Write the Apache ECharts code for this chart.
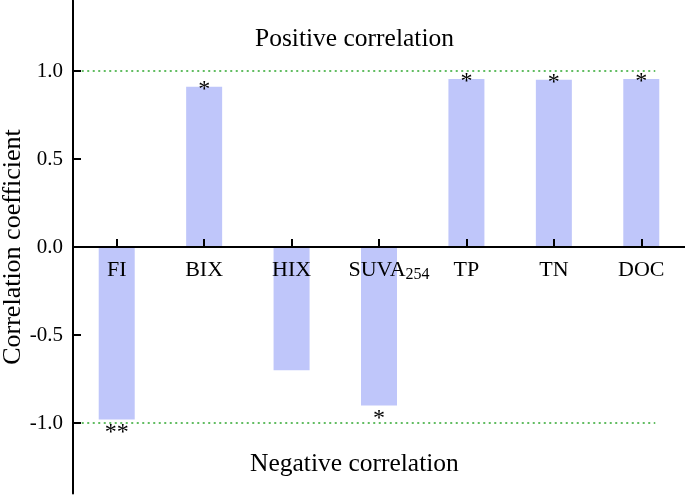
<!DOCTYPE html>
<html><head><meta charset="utf-8">
<script src="https://cdn.jsdelivr.net/npm/echarts@6/dist/echarts.min.js"></script>
<style>html,body{margin:0;padding:0;background:#fff}#c{width:685px;height:495px}</style>
</head><body><div id="c"></div>
<script>
const categories = ['FI', 'BIX', 'HIX', 'SUVA254', 'TP', 'TN', 'DOC'];
const coefficients = [-0.98, 0.91, -0.70, -0.90, 0.955, 0.95, 0.955];
const significance = ['**', '*', '', '*', '*', '*', '*'];
const yRange = [-1.4, 1.4];
const yTickValues = [-1, -0.5, 0, 0.5, 1];
const refLevels = [1, -1];
const refSpan = [0.1, 6.66];

const F = 'Liberation Serif, Times New Roman, serif';
const chart = echarts.init(document.getElementById('c'));
const barData = coefficients.map((v, i) => ({
  value: v,
  label: {
    show: significance[i] !== '',
    position: v >= 0 ? 'top' : 'bottom',
    distance: v >= 0 ? -15 : 1,
    formatter: significance[i],
    fontFamily: F, fontSize: 24, lineHeight: 24, color: '#000'
  }
}));
const catLabelData = categories.map((c, i) => ({
  value: [i, 0],
  label: {
    formatter: c === 'SUVA254' ? 'SUVA{s|254}' : c,
    offset: c === 'SUVA254' ? [10, 0] : [0, 0]
  }
}));
const refSeries = refLevels.map(l => ({
  type: 'line', xAxisIndex: 1, symbol: 'none', silent: true,
  data: refSpan.map(x => [x, l]),
  lineStyle: { color: '#2fa82f', type: [2, 3.5], width: 1.6 },
  z: 1
}));
chart.setOption({
  animation: false,
  grid: { left: 73, right: 0, top: 0.6, bottom: 1.6, containLabel: false, outerBoundsMode: 'none' },
  xAxis: [{
    type: 'category', data: categories,
    axisLine: { onZero: true, lineStyle: { color: '#000', width: 2 } },
    axisTick: { show: true, inside: true, alignWithLabel: true, length: 8, lineStyle: { color: '#000', width: 2 } },
    axisLabel: { show: false },
    z: 5
  }, {
    type: 'value', min: 0, max: 7, show: false
  }],
  yAxis: {
    type: 'value', min: yRange[0], max: yRange[1],
    name: 'Correlation coefficient', nameLocation: 'middle', nameGap: 47, nameMoveOverlap: false,
    nameTextStyle: { fontFamily: F, fontSize: 26, color: '#000' },
    axisLine: { show: true, lineStyle: { color: '#000', width: 2 } },
    axisTick: { show: true, inside: true, length: 8, customValues: yTickValues, lineStyle: { color: '#000', width: 2 } },
    axisLabel: { fontFamily: F, fontSize: 21, color: '#000', margin: 10, customValues: yTickValues, formatter: v => v.toFixed(1) },
    splitLine: { show: false }
  },
  graphic: [
    { type: 'text', x: 255, y: 39, style: { text: 'Positive correlation', font: '25.5px ' + F, fill: '#000', verticalAlign: 'middle', align: 'left' } },
    { type: 'text', x: 250, y: 464, style: { text: 'Negative correlation', font: '25.5px ' + F, fill: '#000', verticalAlign: 'middle', align: 'left' } }
  ],
  series: [{
    type: 'bar', data: barData, barWidth: 36,
    itemStyle: { color: '#bfc6fa' }, z: 2
  }, ...refSeries, {
    type: 'scatter', data: catLabelData, symbolSize: 0, silent: true,
    itemStyle: { color: '#000', opacity: 1 }, z: 6,
    label: {
      show: true, position: 'bottom', distance: 12,
      fontFamily: F, fontSize: 22, lineHeight: 22, color: '#000', opacity: 1,
      rich: { s: { fontFamily: F, fontSize: 16, color: '#000', padding: [9, 0, 0, 0] } }
    }
  }]
});
</script></body></html>
